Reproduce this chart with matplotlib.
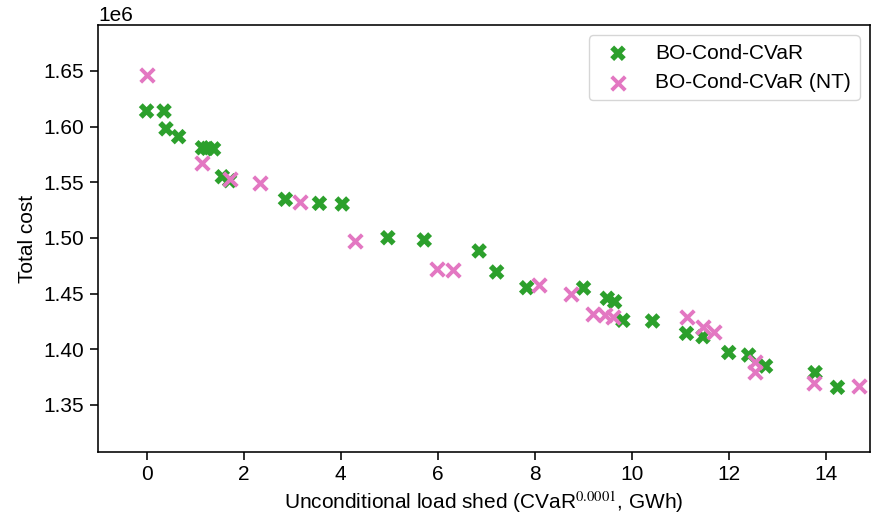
import numpy as np
import matplotlib
matplotlib.use('Agg')
import matplotlib.pyplot as plt

plt.rcParams['font.family'] = ['Liberation Sans', 'DejaVu Sans']
plt.rcParams['mathtext.fontset'] = 'stix'
plt.rcParams['font.size'] = 15
plt.rcParams['axes.linewidth'] = 1.15
plt.rcParams['xtick.major.size'] = 5.8
plt.rcParams['ytick.major.size'] = 5.8
plt.rcParams['xtick.major.width'] = 1.15
plt.rcParams['ytick.major.width'] = 1.15
plt.rcParams['ytick.major.pad'] = 4.5

# BO-Cond-CVaR (filled X markers)
cond_x = [0.0, 0.36, 0.40, 0.66, 1.15, 1.25, 1.38, 1.56, 1.71, 2.86,
          3.56, 4.03, 4.97, 5.72, 6.85, 7.21, 7.83, 9.00, 9.49, 9.64,
          9.81, 10.42, 11.12, 11.46, 11.99, 12.40, 12.75, 13.77, 14.23]
cond_y = [1.614, 1.614, 1.598, 1.591, 1.581, 1.5805, 1.580, 1.555, 1.5514, 1.5347,
          1.5311, 1.5305, 1.5002, 1.4982, 1.4883, 1.4694, 1.4553, 1.4550, 1.4458, 1.4427,
          1.4260, 1.4254, 1.4143, 1.4113, 1.3971, 1.3948, 1.3849, 1.3790, 1.3658]

# BO-Cond-CVaR (NT) (thin x markers)
nt_x = [0.0, 1.15, 1.71, 2.34, 3.17, 4.30, 5.99, 6.32, 8.09, 8.75,
        9.20, 9.44, 9.61, 11.14, 11.46, 11.68, 12.54, 12.54, 13.75, 14.68]
nt_y = [1.6464, 1.5676, 1.5527, 1.5491, 1.5320, 1.4975, 1.4718, 1.4709, 1.4580, 1.4496,
        1.4319, 1.4305, 1.4292, 1.4287, 1.4197, 1.4155, 1.3888, 1.3798, 1.3694, 1.3670]

cond_y = np.array(cond_y) * 1e6
nt_y = np.array(nt_y) * 1e6

fig = plt.figure(figsize=(8.72, 5.27), dpi=100)
ax = fig.add_axes([0.1124, 0.1423, 0.8853, 0.8103])

ax.scatter(cond_x, cond_y, marker='X', s=125, color='#2ca02c',
           edgecolors='none', label='BO-Cond-CVaR', zorder=2)
ax.scatter(nt_x, nt_y, marker='x', s=95, color='#e377c2',
           linewidths=2.8, label='BO-Cond-CVaR (NT)', zorder=3)

ax.set_xlim(-1.0, 14.9)
ax.set_ylim(1.3077e6, 1.6913e6)
ax.set_xticks(np.arange(0, 15, 2))
ax.set_yticks(np.arange(1.35e6, 1.651e6, 0.05e6))

ax.set_xlabel(r'Unconditional load shed (CVaR$^{0.0001}$, GWh)')
ax.set_ylabel('Total cost')

ax.legend(loc='upper right')

plt.savefig('out.png', dpi=100)
